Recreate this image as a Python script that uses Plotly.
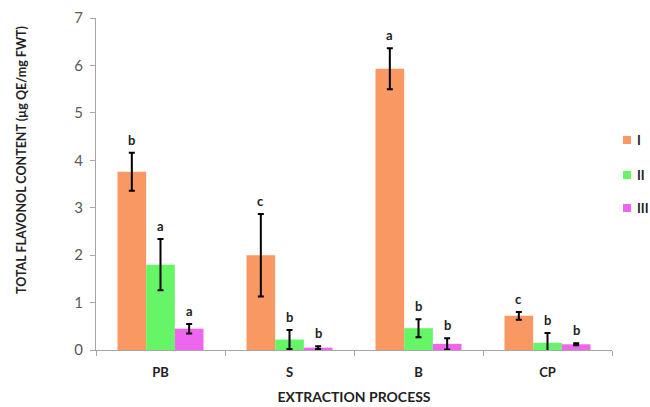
import plotly.graph_objects as go

categories = ["PB", "S", "B", "CP"]
series_names = ["I", "II", "III"]
vals_I = [3.76, 2.00, 5.93, 0.72]
vals_II = [1.80, 0.22, 0.46, 0.15]
vals_III = [0.45, 0.05, 0.13, 0.12]
err_I = [0.40, 0.87, 0.43, 0.08]
err_II = [0.54, 0.20, 0.19, 0.21]
err_III = [0.10, 0.03, 0.12, 0.02]
letters_I = ["b", "c", "a", "c"]
letters_II = ["a", "b", "b", "b"]
letters_III = ["a", "b", "b", "b"]
colors = ["#F99862", "#66F566", "#EE66EE"]

FONT = "Lato, Liberation Sans, sans-serif"

values = [vals_I, vals_II, vals_III]
errors = [err_I, err_II, err_III]
letters = [letters_I, letters_II, letters_III]

fig = go.Figure()
for i, name in enumerate(series_names):
    fig.add_trace(go.Bar(
        x=categories, y=values[i], name=name,
        marker=dict(color=colors[i], line=dict(width=0)),
        error_y=dict(type="data", array=errors[i], color="black", thickness=2, width=3),
        showlegend=False,
    ))

bargap = 1 / 3
bar_w = (1 - bargap) / 3
annotations = []
for i in range(3):
    off = (i - 1) * bar_w
    for j, c in enumerate(categories):
        annotations.append(dict(
            x=j + off, y=values[i][j] + errors[i][j], xref="x", yref="y",
            text="<b>%s</b>" % letters[i][j], showarrow=False,
            yanchor="bottom", yshift=3,
            font=dict(family=FONT, size=13, color="#222222"),
        ))

# manual legend (right side)
L, R, T, B = 96, 612, 18, 350
pw, ph = R - L, B - T
shapes = []
legend_y = [140, 175, 208]
for i, name in enumerate(series_names):
    cy = legend_y[i]
    shapes.append(dict(type="rect", xref="paper", yref="paper",
                       x0=(623 - L) / pw, x1=(631 - L) / pw,
                       y0=(B - (cy + 4)) / ph, y1=(B - (cy - 4)) / ph,
                       fillcolor=colors[i], line=dict(width=0)))
    annotations.append(dict(x=(635 - L) / pw, y=(B - cy) / ph, xref="paper", yref="paper",
                            text="<b>%s</b>" % name, showarrow=False,
                            xanchor="left", yanchor="middle",
                            font=dict(family=FONT, size=13, color="#222222")))

# y-axis title as rotated annotation (placed as in reference, above centre)
annotations.append(dict(x=(21 - L) / pw, y=(B - 160) / ph, xref="paper", yref="paper",
                        text="<b>TOTAL FLAVONOL CONTENT (µg QE/mg FWT)</b>", textangle=-90,
                        showarrow=False, xanchor="center", yanchor="middle",
                        font=dict(family=FONT, size=12.5, color="#222222")))

fig.update_layout(
    width=650, height=407,
    margin=dict(l=L, r=650 - R, t=T, b=407 - B, autoexpand=False),
    paper_bgcolor="white", plot_bgcolor="white",
    barmode="group", bargap=bargap, bargroupgap=0,
    showlegend=False,
    annotations=annotations,
    shapes=shapes,
    font=dict(family=FONT),
)
fig.update_xaxes(
    showline=True, linecolor="#A6A6A6", linewidth=1,
    ticks="outside", tickson="boundaries", ticklen=5, tickcolor="#A6A6A6",
    tickfont=dict(family=FONT, size=13, color="#222222"),
    ticklabelstandoff=10,
    title=dict(text="<b>EXTRACTION PROCESS</b>", font=dict(family=FONT, size=14, color="#222222"), standoff=13),
    range=[-0.5, 3.5],
    tickvals=categories, ticktext=["<b>%s</b>" % c for c in categories],
)
fig.update_yaxes(
    range=[0, 7], dtick=1, showgrid=False, zeroline=False,
    showline=True, linecolor="#A6A6A6", linewidth=1,
    ticks="outside", ticklen=5, tickcolor="#A6A6A6",
    tickfont=dict(family=FONT, size=15, color="#595959"),
    ticklabelstandoff=4,
)

fig.write_html("out.html")
